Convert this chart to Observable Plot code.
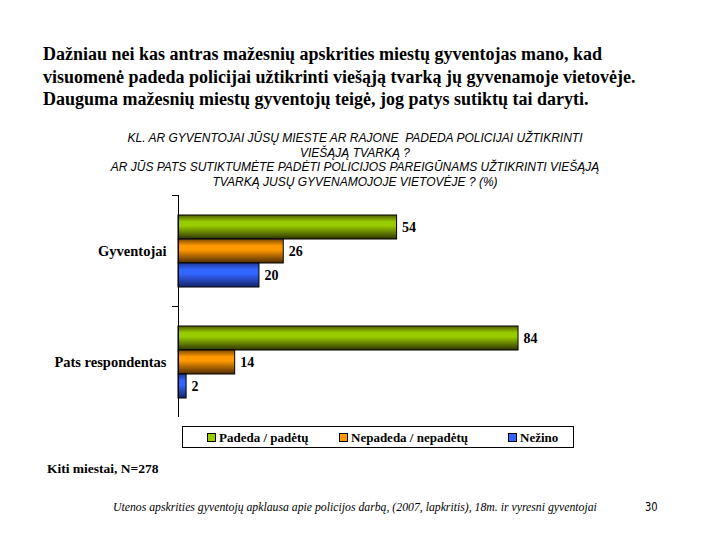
<!DOCTYPE html>
<html>
<head>
<meta charset="utf-8">
<script src="https://cdn.jsdelivr.net/npm/d3@7"></script>
<script src="https://cdn.jsdelivr.net/npm/@observablehq/plot@0.6"></script>
<style>
  html, body { margin: 0; padding: 0; background: #fff; }
  #page { position: relative; width: 720px; height: 540px; overflow: hidden; }
  .abs { position: absolute; white-space: nowrap; }
  #headline { left: 43px; top: 43px; font: bold 18px/22.5px "Liberation Serif", "Times New Roman", serif; color: #000; }
  #ctitle { left: 0; width: 710px; top: 131px; text-align: center; white-space: pre; font: italic 12px/14.5px "Liberation Sans", Arial, sans-serif; color: #000; }
  #chart { left: 0; top: 190px; }
  #legend { left: 182px; top: 426px; width: 392px; height: 22px; border: 1px solid #000; box-sizing: border-box; font: bold 13px "Liberation Serif", serif; }
  .li { position: absolute; top: 3px; }
  .sw { display: inline-block; width: 7px; height: 7px; border: 1px solid #000; margin-right: 3px; vertical-align: 0px; }
  #note { left: 47px; top: 461px; font: bold 13.5px "Liberation Serif", serif; }
  #source { left: 113px; top: 501px; font: italic 11.75px "Liberation Serif", serif; }
  #pnum { left: 645px; top: 499px; font: 13px "DejaVu Sans Condensed", "Liberation Sans Narrow", sans-serif; transform: scaleX(0.85); transform-origin: left; }
</style>
</head>
<body>
<svg width="0" height="0" style="position:absolute">
  <defs id="grads"></defs>
</svg>
<div id="page">
  <div class="abs" id="headline"></div>
  <div class="abs" id="ctitle"></div>
  <div class="abs" id="chart"></div>
  <div class="abs" id="legend"></div>
  <div class="abs" id="note"></div>
  <div class="abs" id="source"></div>
  <div class="abs" id="pnum"></div>
</div>
<script>
// ---- data ----
const categories = ["Gyventojai", "Pats respondentas"];
const series = ["Padeda / padėtų", "Nepadeda / nepadėtų", "Nežino"];
const valuesPadeda = [54, 84];
const valuesNepadeda = [26, 14];
const valuesNezino = [20, 2];
const seriesBright = ["#99cc00", "#ff9900", "#3366ff"];
const seriesDark = ["#2e3300", "#4d2b00", "#14246b"];
const seriesTop = ["#4f5c00", "#7a4800", "#1f3a99"];

const headlineLines = [
  "Dažniau nei kas antras mažesnių apskrities miestų gyventojas mano, kad",
  "visuomenė padeda policijai užtikrinti viešąją tvarką jų gyvenamoje vietovėje.",
  "Dauguma mažesnių miestų gyventojų teigė, jog patys sutiktų tai daryti."
];
const chartTitleLines = [
  "KL. AR GYVENTOJAI JŪSŲ MIESTE AR RAJONE  PADEDA POLICIJAI UŽTIKRINTI",
  "VIEŠĄJĄ TVARKĄ ?",
  "AR JŪS PATS SUTIKTUMĖTE PADĖTI POLICIJOS PAREIGŪNAMS UŽTIKRINTI VIEŠĄJĄ",
  "TVARKĄ JUSŲ GYVENAMOJOJE VIETOVĖJE ? (%)"
];
const noteText = "Kiti miestai, N=278";
const sourceText = "Utenos apskrities gyventojų apklausa apie policijos darbą, (2007, lapkritis), 18m. ir vyresni gyventojai";
const pageNumber = "30";

// ---- build table ----
const seriesValues = [valuesPadeda, valuesNepadeda, valuesNezino];
const data = [];
categories.forEach((c, i) => {
  series.forEach((s, j) => data.push({category: c, series: s, value: seriesValues[j][i]}));
});

// ---- gradients ----
const gradIds = series.map((s, j) => "grad" + j);
const defs = d3.select("#grads");
series.forEach((s, j) => {
  const g = defs.append("linearGradient").attr("id", gradIds[j])
    .attr("x1", 0).attr("y1", 0).attr("x2", 0).attr("y2", 1);
  g.append("stop").attr("offset", "0%").attr("stop-color", seriesTop[j]);
  g.append("stop").attr("offset", "28%").attr("stop-color", seriesBright[j]);
  g.append("stop").attr("offset", "45%").attr("stop-color", seriesBright[j]);
  g.append("stop").attr("offset", "100%").attr("stop-color", seriesDark[j]);
});

// ---- texts ----
d3.select("#headline").html(headlineLines.join("<br>"));
d3.select("#ctitle").text(chartTitleLines.join("\n"));
d3.select("#note").text(noteText);
d3.select("#source").text(sourceText);
d3.select("#pnum").text(pageNumber);

// ---- legend ----
const legendX = [24, 156, 325];
const leg = d3.select("#legend");
series.forEach((s, j) => {
  const item = leg.append("div").attr("class", "li").style("left", legendX[j] + "px");
  item.append("span").attr("class", "sw").style("background", seriesBright[j]);
  item.append("span").text(s);
});

// ---- chart ----
const chart = Plot.plot({
  width: 720,
  height: 230,
  marginLeft: 178,
  marginRight: 137.2,
  marginTop: 5,
  marginBottom: 3,
  x: {domain: [0, 100], axis: null},
  fy: {domain: categories, padding: 0, axis: null},
  y: {domain: series, paddingInner: 0, paddingOuter: 0.745, axis: null},
  color: {domain: series, range: gradIds.map(id => `url(#${id})`)},
  style: {background: "transparent"},
  marks: [
    Plot.barX(data, {fy: "category", y: "series", x: "value", fill: "series", stroke: "#000", strokeWidth: 1}),
    Plot.text(data, {fy: "category", y: "series", x: "value", text: d => String(d.value), textAnchor: "start", dx: 5,
      fontSize: 14, fontWeight: "bold", fontFamily: "Liberation Serif, serif", fill: "#000"}),
    Plot.ruleX([0], {stroke: "#000", strokeWidth: 1}),
    Plot.axisFy({anchor: "left", tickSize: 0, tickPadding: 12, fontSize: 14.5, fontWeight: "bold",
      fontFamily: "Liberation Serif, serif", label: null}),
    Plot.axisFy({anchor: "left", tickSize: 6, tickFormat: () => "", label: null, dy: -55.5})
  ]
});
document.getElementById("chart").appendChild(chart);
</script>
</body>
</html>
